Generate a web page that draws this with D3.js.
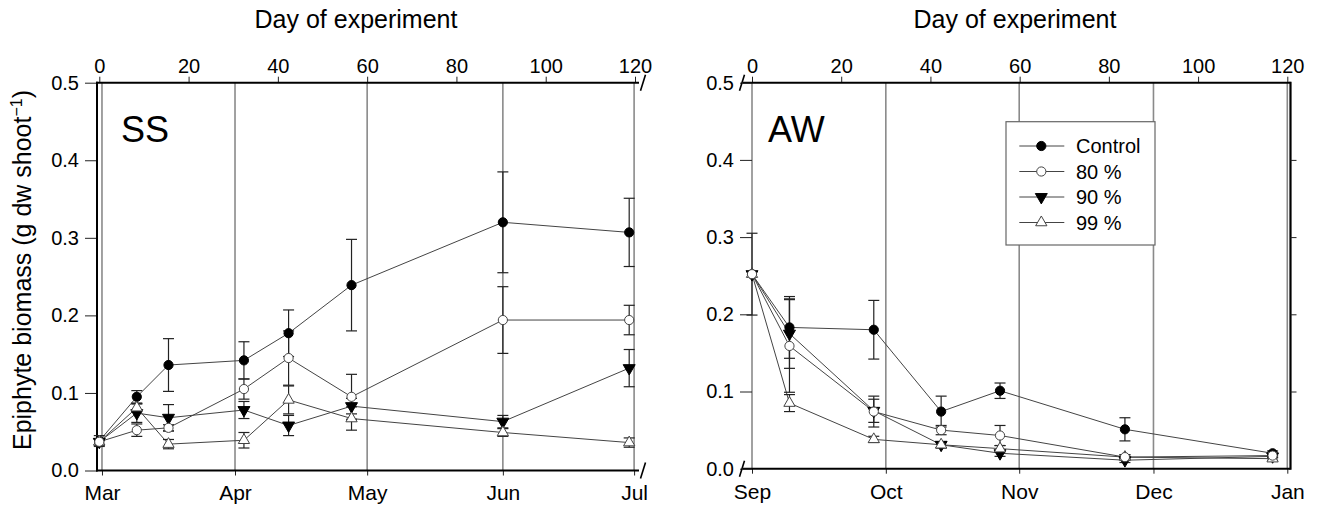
<!DOCTYPE html>
<html>
<head>
<meta charset="utf-8">
<script src="https://cdn.jsdelivr.net/npm/d3@7"></script>
<style>
  body { margin: 0; background: #fff; }
  text { font-family: "Liberation Sans", Arial, sans-serif; fill: #000; }
</style>
</head>
<body>
<script>
// series names (legend)
let seriesNames = ['Control', '80 %', '90 %', '99 %']

// SS experiment (Mar - Jul)
let ssDays = [0, 8.4, 15.5, 32.4, 42.4, 56.5, 90.4, 118.7]
let ssControl = [0.038, 0.095, 0.136, 0.142, 0.177, 0.239, 0.320, 0.307]
let ssControlErr = [0.007, 0.008, 0.034, 0.024, 0.030, 0.059, 0.065, 0.044]
let ss80 = [0.037, 0.052, 0.055, 0.105, 0.145, 0.095, 0.194, 0.194]
let ss80Err = [0.004, 0.008, 0.004, 0.013, 0.035, 0.029, 0.043, 0.019]
let ss90 = [0.037, 0.074, 0.068, 0.078, 0.058, 0.083, 0.063, 0.132]
let ss90Err = [0.004, 0.012, 0.017, 0.011, 0.013, 0.010, 0.008, 0.024]
let ss99 = [0.037, 0.081, 0.034, 0.039, 0.091, 0.067, 0.049, 0.036]
let ss99Err = [0.004, 0.005, 0.006, 0.010, 0.018, 0.015, 0.005, 0.006]
let ssMonths = ['Mar', 'Apr', 'May', 'Jun', 'Jul']
let ssMonthDays = [0.6, 30.4, 60, 90.4, 119.8]

// AW experiment (Sep - Jan)
let awDays = [0, 8.4, 27.3, 42.4, 55.6, 83.6, 116.7]
let awControl = [0.252, 0.183, 0.180, 0.074, 0.101, 0.051, 0.020]
let awControlErr = [0.053, 0.040, 0.038, 0.020, 0.010, 0.015, 0.003]
let aw80 = [0.252, 0.159, 0.074, 0.050, 0.043, 0.015, 0.017]
let aw80Err = [0, 0.060, 0.020, 0.006, 0.013, 0.003, 0.002]
let aw90 = [0.252, 0.175, 0.075, 0.031, 0.020, 0.011, 0.016]
let aw90Err = [0, 0.045, 0.015, 0.004, 0.004, 0.003, 0.002]
let aw99 = [0.252, 0.085, 0.038, 0.031, 0.026, 0.015, 0.013]
let aw99Err = [0, 0.011, 0.004, 0.004, 0.004, 0.003, 0.002]
let awMonths = ['Sep', 'Oct', 'Nov', 'Dec', 'Jan']
let awMonthDays = [0, 30, 59.9, 90, 120]

let dayTicks = [0, 20, 40, 60, 80, 100, 120]
let yTicks = [0, 0.1, 0.2, 0.3, 0.4, 0.5]

let markerTypes = ['dot', 'ring', 'down', 'up']
// markers drawn in this order so the open circle ends up on top where points coincide
let markerOrder = [0, 2, 3, 1]

let svg = d3.select('body').append('svg')
  .attr('width', 1317)
  .attr('height', 505)

function buildSeries (days, lists) {
  return lists.map((l, i) => ({
    name: seriesNames[i],
    marker: markerTypes[i],
    points: days.map((d, j) => ({day: d, value: l[0][j], err: l[1][j]}))
  }))
}

function drawMarker (sel, type) {
  if (type === 'dot' || type === 'ring') {
    sel.append('circle')
      .attr('r', 4.6)
      .style('fill', type === 'dot' ? '#000' : '#fff')
      .style('stroke', type === 'dot' ? '#000' : '#444')
      .style('stroke-width', 1)
  } else {
    sel.append('path')
      .attr('d', d3.symbol().type(d3.symbolTriangle).size(type === 'down' ? 62 : 55))
      .attr('transform', type === 'down' ? 'rotate(180)' : null)
      .style('fill', type === 'down' ? '#000' : '#fff')
      .style('stroke', type === 'down' ? '#000' : '#444')
      .style('stroke-width', 1)
  }
}

function createPanel (p) {
  let x = d3.scaleLinear().domain([0, 120]).range([p.x0, p.x1])
  let y = d3.scaleLinear().domain([0, 0.5]).range([p.yBottom, 82.7])
  let g = svg.append('g')

  /* month separators */
  g.selectAll('.month').data(p.monthDays).enter().append('line')
    .attr('x1', d => x(d)).attr('x2', d => x(d))
    .attr('y1', y(0.5)).attr('y2', y(0))
    .style('stroke', '#8a8a8a').style('stroke-width', 1.6)

  /* top axis: day of experiment */
  let top = g.append('g').attr('transform', 'translate(0,' + y(0.5) + ')')
    .call(d3.axisTop(x).tickValues(dayTicks).tickSize(6).tickPadding(4).tickFormat(d3.format('d')))
  top.select('.domain').remove()
  top.selectAll('.tick line').style('stroke', '#222')
  top.selectAll('text').style('font-size', '20px')
  g.append('line').attr('x1', p.axisL).attr('x2', p.axisR)
    .attr('y1', y(0.5)).attr('y2', y(0.5)).style('stroke', '#000').style('stroke-width', 2)

  /* bottom axis: months */
  let bottom = g.append('g').attr('transform', 'translate(0,' + y(0) + ')')
    .call(d3.axisBottom(x).tickValues(p.monthDays).tickSize(5).tickPadding(10)
      .tickFormat((d, i) => p.months[i]))
  bottom.select('.domain').remove()
  bottom.selectAll('.tick line').style('stroke', '#222')
  bottom.selectAll('text').style('font-size', '21px')
  g.append('line').attr('x1', p.axisL).attr('x2', p.axisR)
    .attr('y1', y(0)).attr('y2', y(0)).style('stroke', '#000').style('stroke-width', 2)

  /* y axis */
  let yAxisX = p.yAxisX
  let left = g.append('g').attr('transform', 'translate(' + yAxisX + ',0)')
    .call(d3.axisLeft(y).tickValues(yTicks).tickSize(12).tickPadding(6).tickFormat(d3.format('.1f')))
  left.select('.domain').remove()
  left.selectAll('.tick line').style('stroke', '#222')
  left.selectAll('text').style('font-size', '20px')
  if (p.leftBlack) {
    g.append('line').attr('x1', yAxisX).attr('x2', yAxisX)
      .attr('y1', y(0.5) - 1).attr('y2', y(0) + 1).style('stroke', '#000').style('stroke-width', 2)
  }
  if (p.rightBlack) {
    let rx = p.axisR
    g.append('line').attr('x1', rx).attr('x2', rx)
      .attr('y1', y(0.5) - 1).attr('y2', y(0) + 1).style('stroke', '#000').style('stroke-width', 2.2)
    let right = g.append('g').attr('transform', 'translate(' + rx + ',0)')
      .call(d3.axisRight(y).tickValues([0.1, 0.2, 0.3, 0.4]).tickSize(6).tickFormat(''))
    right.select('.domain').remove()
    right.selectAll('.tick line').style('stroke', '#222')
  }

  /* axis break marks */
  p.breakX.forEach(bx => {
    [y(0.5), y(0)].forEach(by => {
      g.append('line').attr('x1', bx - 2.5).attr('x2', bx + 2.5)
        .attr('y1', by + 8).attr('y2', by - 8)
        .style('stroke', '#000').style('stroke-width', 1.6)
    })
  })

  /* panel label */
  g.append('text').attr('x', p.labelX).attr('y', 141.7)
    .style('font-size', '36px').text(p.name)

  /* axis title */
  g.append('text').attr('x', p.titleX).attr('y', 28)
    .attr('text-anchor', 'middle').style('font-size', '25px')
    .text('Day of experiment')

  /* series */
  let line = d3.line().x(d => x(d.day)).y(d => y(d.value))
  p.series.forEach(s => {
    g.append('path').attr('d', line(s.points))
      .style('fill', 'none').style('stroke', '#444').style('stroke-width', 1)
  })
  p.series.forEach(s => {
    let eb = g.selectAll(null).data(s.points.filter(d => d.err > 0)).enter().append('g')
      .attr('transform', d => 'translate(' + x(d.day) + ',0)')
      .style('stroke', '#222').style('stroke-width', 1.2)
    eb.append('line').attr('y1', d => y(d.value + d.err)).attr('y2', d => y(d.value - d.err))
    eb.append('line').attr('x1', -5.5).attr('x2', 5.5)
      .attr('y1', d => y(d.value + d.err)).attr('y2', d => y(d.value + d.err))
    eb.append('line').attr('x1', -5.5).attr('x2', 5.5)
      .attr('y1', d => y(d.value - d.err)).attr('y2', d => y(d.value - d.err))
  })
  markerOrder.forEach(k => {
    let s = p.series[k]
    g.selectAll(null).data(s.points).enter().append('g')
      .attr('transform', d => 'translate(' + x(d.day) + ',' + y(d.value) + ')')
      .each(function () { drawMarker(d3.select(this), s.marker) })
  })
}

createPanel({
  name: 'SS', x0: 99.3, x1: 635, yBottom: 470.5, axisL: 96, axisR: 639, yAxisX: 97,
  leftBlack: true, rightBlack: false, breakX: [643], labelX: 121, titleX: 356,
  months: ssMonths, monthDays: ssMonthDays,
  series: buildSeries(ssDays, [[ssControl, ssControlErr], [ss80, ss80Err], [ss90, ss90Err], [ss99, ss99Err]])
})

createPanel({
  name: 'AW', x0: 752, x1: 1287.3, yBottom: 468.7, axisL: 743, axisR: 1290.5, yAxisX: 752,
  leftBlack: false, rightBlack: true, breakX: [742], labelX: 768, titleX: 1015,
  months: awMonths, monthDays: awMonthDays,
  series: buildSeries(awDays, [[awControl, awControlErr], [aw80, aw80Err], [aw90, aw90Err], [aw99, aw99Err]])
})

/* y axis title */
let yTitle = svg.append('text')
  .attr('transform', 'translate(31,270) rotate(-90)')
  .attr('text-anchor', 'middle')
  .style('font-size', '25px')
yTitle.append('tspan').text('Epiphyte biomass (g dw shoot')
yTitle.append('tspan').attr('dy', -9).style('font-size', '16px').text('\u22121')
yTitle.append('tspan').attr('dy', 9).text(')')

/* legend */
let legend = svg.append('g').attr('transform', 'translate(1006,121.7)')
legend.append('rect').attr('width', 149).attr('height', 123.3)
  .style('fill', '#fff').style('stroke', '#666').style('stroke-width', 1.2)
seriesNames.forEach((name, i) => {
  let row = legend.append('g').attr('transform', 'translate(0,' + (24.3 + i * 25.5) + ')')
  row.append('line').attr('x1', 13.3).attr('x2', 58.3)
    .style('stroke', '#444').style('stroke-width', 1)
  drawMarker(row.append('g').attr('transform', 'translate(35.3,0)'), markerTypes[i])
  row.append('text').attr('x', 70).attr('dy', '.35em').style('font-size', '20px').text(name)
})
</script>
</body>
</html>
